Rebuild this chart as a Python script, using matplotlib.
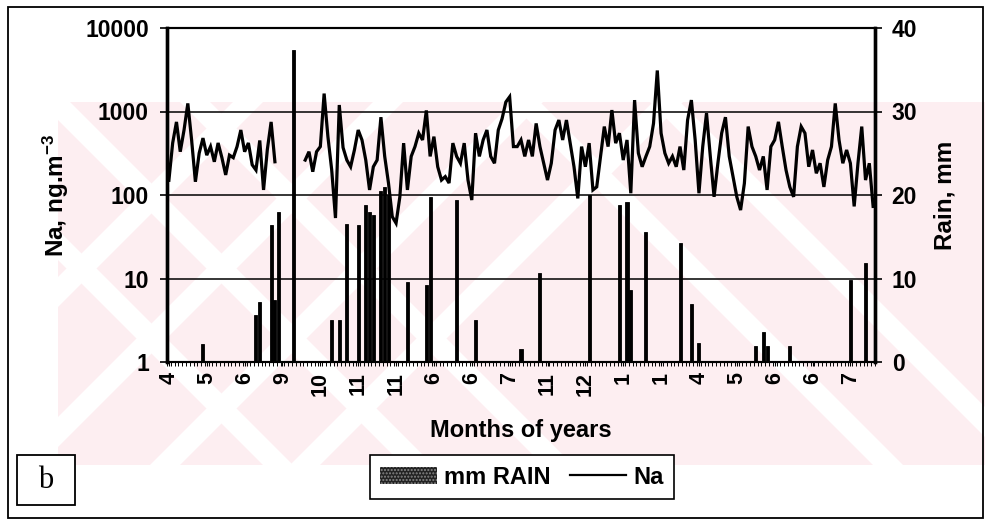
import numpy as np
import matplotlib
matplotlib.use("Agg")
import matplotlib.pyplot as plt
from matplotlib.patches import Rectangle, Polygon
from matplotlib.lines import Line2D
from matplotlib.ticker import FixedLocator, NullLocator

plt.rcParams['font.family'] = ['Liberation Sans', 'DejaVu Sans']
plt.rcParams['font.weight'] = 'bold'
plt.rcParams['mathtext.fontset'] = 'custom'
plt.rcParams['mathtext.rm'] = 'Liberation Sans:bold'
plt.rcParams['mathtext.bf'] = 'Liberation Sans:bold'
plt.rcParams['mathtext.default'] = 'bf'

# Month labels shown every 10 sampling days
month_labels = ["4", "5", "6", "9", "10", "11", "11", "6", "6", "7",
                "11", "12", "1", "1", "4", "5", "6", "6", "7"]
label_step = 10

# Daily Na concentration (ng/m3); NaN = no sample
na = [150, 420, 750, 330, 600, 1250, 456, 144, 317, 480,
      300, 380, 250, 420, 280, 174, 300, 280, 380, 600,
      330, 420, 230, 199, 450, 115, 350, 750, 250,
      np.nan, np.nan, np.nan, np.nan, np.nan, np.nan, np.nan,
      262, 330, 190, 330, 380, 1640, 500, 200, 53, 1196,
      370, 262, 218, 346, 600, 456, 262, 115, 218, 262,
      855, 290, 139, 55, 46, 95, 418, 115, 290, 380,
      550, 456, 1030, 290, 500, 218, 151, 166, 139, 418,
      290, 240, 418, 151, 87, 550, 290, 456, 600, 290,
      240, 600, 820, 1300, 1500, 380,
      380, 456, 290, 456, 290, 720, 380, 240, 151, 240,
      600, 790, 456, 790, 418, 218, 91, 380, 218, 418,
      115, 125, 290, 660, 380, 1040, 418, 550, 262, 456,
      105, 1370, 317, 218, 290, 380, 720, 3100, 550, 317,
      240, 290, 218, 380, 199, 790, 1370,
      456, 105, 380, 955, 290, 95, 240, 550, 855, 290,
      166, 95, 66, 138, 660, 380, 290, 199, 290, 115,
      380, 456, 752, 380, 199, 125, 95, 380, 660, 550,
      218, 346, 182, 240, 125, 262, 380, 1250, 456, 240,
      346, 240, 73, 240, 660, 151, 240, 73]

# Rain events: sampling-day index and amount (mm)
rain_days = [9, 23, 24, 27, 28, 29, 33, 43, 45, 47, 50, 52, 53, 54,
             56, 57, 58, 63, 68, 69, 76, 81, 93, 98, 111, 119, 121,
             122, 126, 135, 138, 140, 155, 157, 158, 164, 180, 184]
rain_mm = [2.2, 5.6, 7.2, 16.4, 7.4, 18.0, 37.4, 5.0, 5.0, 16.5, 16.4,
           18.8, 18.0, 17.6, 20.5, 21.0, 20.0, 9.6, 9.2, 19.8, 19.4,
           5.0, 1.5, 10.7, 20.0, 18.8, 19.2, 8.6, 15.6, 14.2, 7.0, 2.3,
           1.9, 3.6, 1.9, 1.9, 9.8, 11.8]

n_days = len(na)
days = np.arange(n_days)
rain = np.zeros(n_days)
rain[rain_days] = rain_mm

W, H = 985, 524
fig = plt.figure(figsize=(W / 100, H / 100), dpi=100)

# Background layer in pixel coordinates
bg = fig.add_axes([0, 0, 1, 1], zorder=-10)
bg.set_xlim(0, W)
bg.set_ylim(H, 0)
bg.axis('off')

pink = '#fdeef1'
band = Rectangle((58, 102), W - 58, 363, facecolor=pink, edgecolor='none')
bg.add_patch(band)


def stripe(x0, width, slope_dir):
    top, bot = 102, 465
    h = bot - top
    if slope_dir > 0:   # "/" stripe
        pts = [(x0, bot), (x0 + width, bot), (x0 + width + h, top), (x0 + h, top)]
    else:               # "\" stripe
        pts = [(x0, top), (x0 + width, top), (x0 + width + h, bot), (x0 + h, bot)]
    p = Polygon(pts, closed=True, facecolor='white', edgecolor='none')
    bg.add_patch(p)
    p.set_clip_path(band)


for x0 in [-100, 40, 180]:
    stripe(x0, 30, -1)
for x0 in [-130, 10, 150, 290]:
    stripe(x0, 30, +1)
for x0 in [510, 650]:
    stripe(x0, 30, -1)

# Outer frame
bg.add_patch(Rectangle((8, 7), 975, 511, facecolor='none', edgecolor='black', lw=1.3))

# Main plot area
L, R, T, B = 167, 875, 28, 362
ax = fig.add_axes([L / W, 1 - B / H, (R - L) / W, (B - T) / H])
ax2 = ax.twinx()
ax.set_zorder(ax2.get_zorder() + 1)
ax.patch.set_visible(False)
ax2.patch.set_visible(False)

# Rain bars (right axis)
ax2.bar(days, rain, width=0.8, color='black', edgecolor='black', lw=0.6)
ax2.set_ylim(0, 40)
ax2.set_yticks([0, 10, 20, 30, 40])

# Na line (left, log axis)
ax.plot(days, na, color='black', lw=2.3, solid_joinstyle='miter')
ax.set_yscale('log')
ax.set_ylim(1, 10000)
ax.yaxis.set_major_locator(FixedLocator([1, 10, 100, 1000, 10000]))
ax.yaxis.set_minor_locator(NullLocator())
ax.set_yticklabels(['1', '10', '100', '1000', '10000'])
ax.grid(axis='y', color='black', lw=1.1)
ax.set_axisbelow(True)

ax.set_xlim(-0.5, n_days - 0.5)
ax2.set_xlim(-0.5, n_days - 0.5)
tick_pos = np.arange(0, len(month_labels) * label_step, label_step)
ax.set_xticks(tick_pos)
ax.set_xticklabels(month_labels, rotation=90, fontsize=15.5, fontweight='bold')
ax.set_xticks(np.arange(-0.5, n_days, 1.0), minor=True)
ax.tick_params(axis='x', which='major', length=3, width=0.8, pad=4)
ax.tick_params(axis='x', which='minor', length=3, width=0.7)
ax.tick_params(axis='y', which='major', length=5, width=1.2, pad=8, labelsize=16.5)
ax2.tick_params(axis='y', which='major', length=5, width=1.2, pad=7, labelsize=16.5)
ax2.tick_params(axis='x', which='both', bottom=False, labelbottom=False)
for lbl in ax.get_yticklabels() + ax2.get_yticklabels():
    lbl.set_fontweight('bold')

for a in (ax, ax2):
    a.spines['left'].set_linewidth(2.4)
    a.spines['right'].set_linewidth(2.4)
    a.spines['top'].set_linewidth(1.5)
    a.spines['bottom'].set_linewidth(1.5)

ax.set_ylabel(r'Na, ng.m$^{-3}$', fontsize=17.5, fontweight='bold', labelpad=10)
ax2.set_ylabel('Rain, mm', fontsize=17.5, fontweight='bold', labelpad=12)
ax.set_xlabel('Months of years', fontsize=17, fontweight='bold', labelpad=17)

# Legend
handles = [Rectangle((0, 0), 1, 1, facecolor='#222222', edgecolor='#888888',
                     hatch='.....', lw=0),
           Line2D([0], [0], color='black', lw=1.6)]
leg = fig.legend(handles, ['mm RAIN', 'Na'], loc='center',
                 bbox_to_anchor=(522 / W, 1 - 477 / H), ncol=2,
                 prop={'size': 17, 'weight': 'bold'}, frameon=True,
                 fancybox=False, framealpha=1, edgecolor='black',
                 handlelength=2.4, handletextpad=0.3,
                 columnspacing=0.8, borderpad=0.45)
leg.get_frame().set_linewidth(1.2)

# Panel tag
bg.add_patch(Rectangle((17, 455), 58, 50, facecolor='white', edgecolor='black', lw=1.3))
bg.text(46, 481, 'b', ha='center', va='center', fontsize=22,
        family=['Liberation Serif', 'DejaVu Serif'], weight='normal')

fig.savefig('out.png', dpi=100)
